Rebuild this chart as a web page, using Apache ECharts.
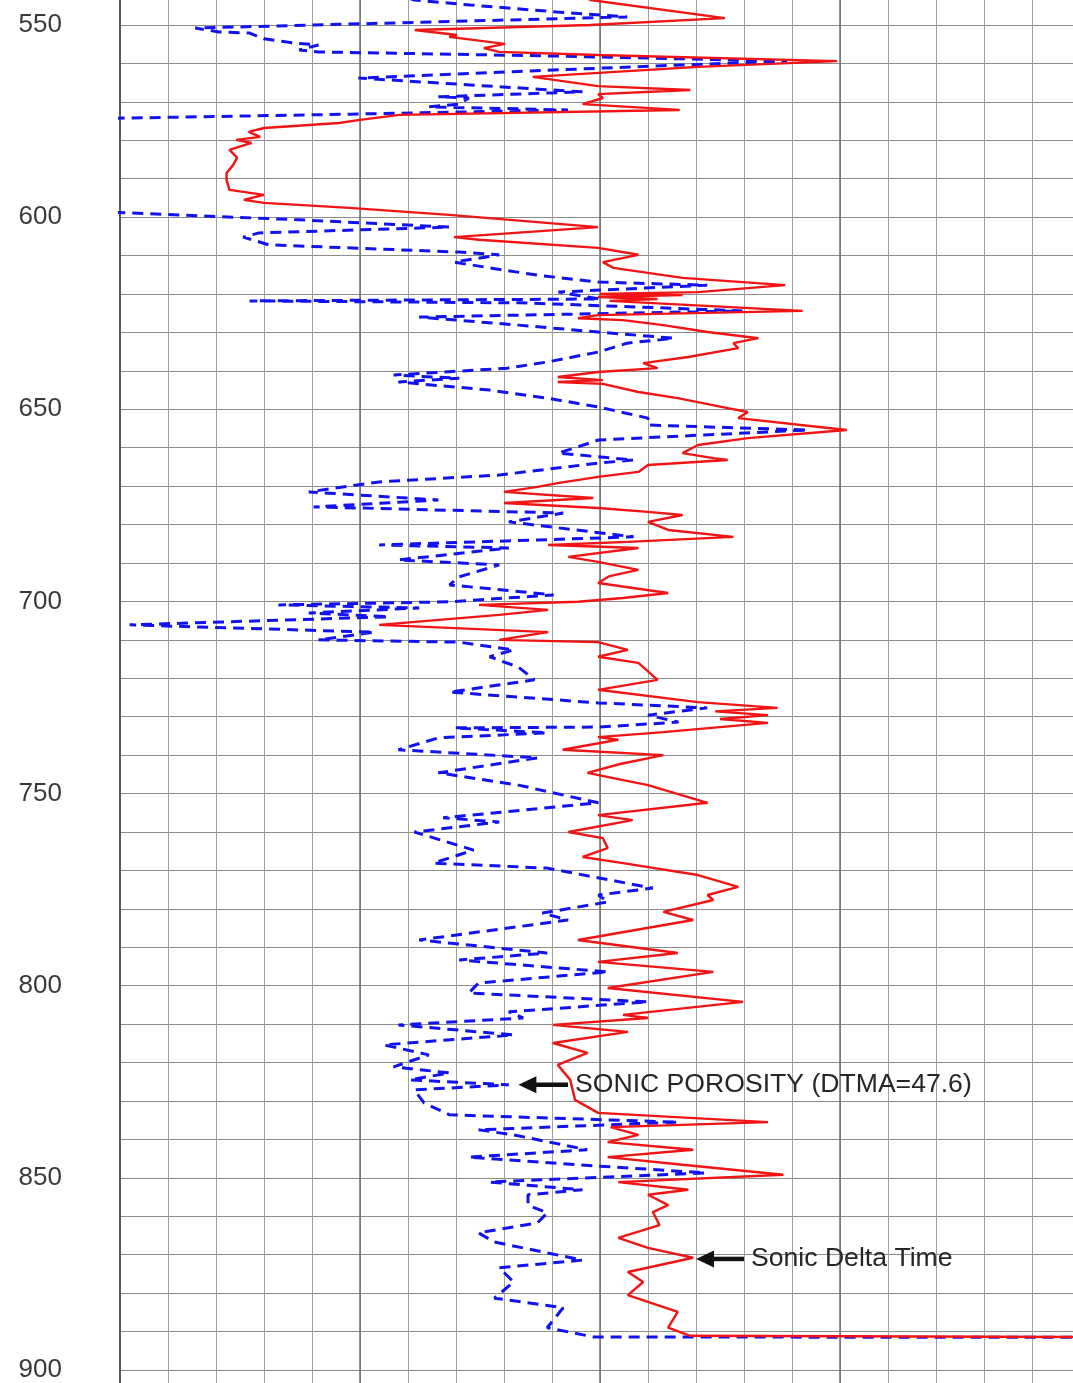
<!DOCTYPE html>
<html>
<head>
<meta charset="utf-8">
<script src="https://cdn.jsdelivr.net/npm/echarts@6/dist/echarts.min.js"></script>
<style>
  html, body { margin: 0; padding: 0; background: #ffffff; }
  #chart { width: 1073px; height: 1383px; }
</style>
</head>
<body>
<div id="chart"></div>
<script>
// Depth labels shown on the left track
const depthTicks = [550, 600, 650, 700, 750, 800, 850, 900];

// Sonic delta time (us/ft) against depth (ft)
const dtDepth = [
  540, 543.5, 548.2, 550.0, 551.3, 552.6, 553.1, 554.4, 554.9, 556.0, 557.0, 557.8, 559.4, 560.9,
  563.5, 565.9, 566.9, 568.0, 569.0, 570.6, 572.1, 573.4, 574.7, 575.5, 576.8, 577.8, 579.1, 579.9,
  580.7, 582.5, 584.5, 586.4, 588.5, 590.3, 592.9, 594.2, 595.5, 596.3, 597.6, 599.4, 602.6, 605.2,
  605.9, 608.0, 609.8, 611.7, 613.2, 615.1, 615.8, 617.7, 619.5, 620.0, 620.3, 620.8, 621.3, 621.8,
  624.4, 625.5, 626.3, 626.8, 628.1, 629.9, 631.5, 632.8, 634.1, 636.4, 638.0, 639.3, 640.3, 641.6,
  642.4, 642.9, 643.4, 645.5, 647.1, 649.7, 650.7, 652.3, 655.4, 657.5, 659.3, 661.4, 662.7, 663.2,
  664.5, 666.3, 667.6, 669.2, 670.2, 671.5, 673.1, 674.4, 675.7, 676.7, 677.5, 679.3, 681.4, 683.2,
  684.5, 685.3, 686.1, 688.4, 689.7, 691.8, 693.4, 695.2, 697.8, 699.1, 700.1, 700.9, 702.2, 703.5,
  706.1, 708.0, 710.0, 710.6, 712.6, 714.4, 716.0, 720.4, 723.0, 726.2, 727.7, 728.6, 729.6, 730.6,
  731.6, 734.0, 735.3, 736.0, 738.6, 740.0, 742.3, 744.6, 747.8, 752.4, 755.6, 756.9, 760.0, 761.6,
  764.2, 766.5, 768.1, 771.2, 774.3, 776.4, 777.7, 780.8, 782.9, 788.1, 791.5, 793.8, 796.4, 800.6,
  804.2, 807.6, 808.4, 810.2, 812.0, 814.9, 817.5, 820.6, 824.5, 829.7, 833.1, 835.5, 836.8, 838.8,
  840.7, 842.7, 844.6, 846.6, 849.2, 851.1, 853.1, 854.4, 857.1, 858.9, 862.3, 865.6, 868.2, 870.8,
  874.5, 877.1, 880.5, 884.9, 889.0, 891.1, 891.7
];
const dtValues = [
  93.0, 91.0, 77.0, 91.0, 109.3, 104.9, 105.7, 101.6, 99.9, 102.1, 100.5, 90.2, 65.3, 79.8,
  97.0, 90.2, 80.6, 90.2, 89.7, 91.8, 81.7, 110.9, 115.0, 117.2, 125.0, 126.6, 125.4, 127.9,
  126.3, 128.6, 127.8, 128.2, 128.9, 128.9, 128.6, 125.0, 127.1, 125.0, 116.1, 105.7, 90.2, 105.2,
  102.6, 90.2, 86.0, 89.7, 88.6, 83.4, 81.4, 70.7, 79.8, 90.0, 81.4, 90.2, 84.0, 89.0,
  68.9, 90.2, 92.3, 87.6, 83.4, 78.8, 73.5, 76.1, 75.6, 80.8, 85.5, 84.0, 90.2, 94.4,
  89.7, 94.4, 89.7, 86.0, 81.9, 76.7, 74.6, 75.6, 64.3, 74.6, 79.8, 81.4, 78.2, 76.7,
  85.0, 86.0, 90.2, 94.4, 96.5, 100.0, 90.7, 100.0, 90.2, 85.0, 81.4, 85.0, 82.9, 76.1,
  87.1, 95.4, 86.0, 93.3, 90.2, 86.0, 89.0, 90.2, 82.9, 87.6, 92.3, 102.6, 95.4, 100.5,
  113.0, 95.4, 100.5, 90.2, 87.1, 90.2, 86.0, 84.0, 90.2, 79.8, 71.5, 78.0, 72.5, 77.5,
  72.5, 83.4, 90.2, 88.1, 93.9, 83.4, 87.9, 91.3, 85.0, 78.8, 90.2, 86.6, 93.3, 89.7,
  89.2, 91.8, 87.6, 79.8, 75.6, 78.8, 78.2, 83.4, 80.3, 92.3, 81.9, 90.2, 78.2, 89.2,
  75.1, 87.6, 85.0, 94.9, 87.1, 94.9, 91.3, 94.4, 93.1, 92.6, 90.2, 72.5, 88.9, 86.0,
  89.2, 80.3, 89.2, 81.4, 70.9, 88.1, 80.8, 85.0, 82.9, 84.5, 83.8, 88.1, 85.0, 80.3,
  87.1, 85.5, 87.1, 81.9, 82.9, 80.6, 0
];

// Sonic porosity (fraction, DTMA = 47.6) against depth (ft)
const phiDepth = [
  540, 543.5, 544.8, 546.6, 547.9, 550.8, 551.8, 552.1, 553.6, 554.7, 555.2, 556.5, 557.0, 558.1,
  559.4, 560.9, 563.8, 565.6, 567.4, 568.7, 569.0, 570.6, 571.3, 572.1, 573.2, 574.2, 575.0, 580,
  590, 597.5, 598.9, 600.7, 602.6, 604.1, 605.2, 607.2, 609.1, 609.8, 611.7, 613.2, 615.1, 616.9,
  617.7, 619.5, 621.3, 621.8, 622.3, 623.4, 624.4, 626.0, 628.1, 629.9, 631.5, 632.8, 635.1, 637.7,
  639.3, 641.1, 641.9, 642.9, 645.0, 647.1, 649.4, 652.3, 654.1, 655.4, 658.0, 659.8, 661.4, 663.2,
  664.0, 667.1, 668.9, 671.5, 673.6, 675.4, 677.0, 679.3, 683.2, 684.0, 685.3, 686.1, 689.2, 690.5,
  693.6, 695.7, 698.3, 700.1, 700.9, 701.7, 703.0, 704.0, 706.1, 708.0, 710.0, 710.6, 712.6, 714.4,
  717.1, 720.4, 723.6, 726.4, 727.7, 729.6, 731.4, 732.7, 732.9, 734.2, 735.5, 738.6, 740.7, 744.6,
  747.8, 752.4, 756.3, 757.4, 760.0, 764.7, 768.1, 769.4, 774.6, 776.4, 778.2, 781.1, 782.9, 788.1,
  791.5, 793.3, 796.4, 799.3, 801.9, 804.2, 806.8, 808.4, 810.2, 812.8, 815.4, 818.0, 821.1, 822.7,
  824.5, 825.8, 827.1, 830.5, 833.6, 835.5, 837.5, 838.8, 842.7, 844.6, 846.6, 848.7, 851.1, 853.1,
  854.4, 857.1, 859.1, 861.7, 864.3, 866.7, 871.4, 873.4, 877.1, 881.3, 883.8, 889.0, 891.4, 891.8
];
const phiValues = [
  0.290, 0.266, 0.231, 0.177, 0.133, 0.403, 0.388, 0.369, 0.360, 0.341, 0.326, 0.338, 0.326, 0.175,
  0.033, 0.130, 0.301, 0.231, 0.161, 0.251, 0.232, 0.238, 0.257, 0.170, 0.306, 0.444, 0.520, 0.580,
  0.600, 0.550, 0.444, 0.338, 0.244, 0.363, 0.373, 0.357, 0.238, 0.213, 0.241, 0.219, 0.189, 0.151,
  0.083, 0.176, 0.150, 0.369, 0.200, 0.125, 0.061, 0.263, 0.201, 0.151, 0.104, 0.133, 0.151, 0.183,
  0.208, 0.279, 0.238, 0.276, 0.219, 0.183, 0.151, 0.120, 0.120, 0.020, 0.151, 0.164, 0.176, 0.129,
  0.151, 0.213, 0.288, 0.332, 0.251, 0.329, 0.173, 0.207, 0.129, 0.189, 0.288, 0.207, 0.276, 0.213,
  0.238, 0.244, 0.179, 0.244, 0.351, 0.263, 0.332, 0.282, 0.444, 0.291, 0.326, 0.238, 0.204, 0.219,
  0.201, 0.191, 0.244, 0.151, 0.083, 0.120, 0.101, 0.151, 0.241, 0.183, 0.251, 0.276, 0.189, 0.251,
  0.201, 0.151, 0.248, 0.213, 0.266, 0.229, 0.254, 0.183, 0.117, 0.151, 0.145, 0.186, 0.170, 0.263,
  0.183, 0.238, 0.145, 0.226, 0.232, 0.120, 0.207, 0.198, 0.276, 0.204, 0.285, 0.257, 0.279, 0.244,
  0.269, 0.207, 0.266, 0.260, 0.244, 0.101, 0.226, 0.204, 0.158, 0.232, 0.164, 0.084, 0.219, 0.161,
  0.195, 0.195, 0.183, 0.189, 0.226, 0.216, 0.161, 0.213, 0.204, 0.216, 0.173, 0.183, 0.154, -1.0
];

// Callouts: text with a left-pointing arrow, anchored in data units
const callouts = [
  { text: 'SONIC POROSITY (DTMA=47.6)', xAxisIndex: 1, head: [0.201, 825.8], tail: [0.17, 825.8] },
  { text: 'Sonic Delta Time', xAxisIndex: 0, head: [80.0, 871.1], tail: [75.0, 871.1] }
];

const zip = (xs, ys) => xs.map((x, i) => [x, ys[i]]);

const chart = echarts.init(document.getElementById('chart'), null, { renderer: 'canvas' });

const FONT = '"Liberation Sans", Arial, Helvetica, sans-serif';

chart.setOption({
  backgroundColor: '#ffffff',
  animation: false,
  grid: {
    left: 120, top: -13.43, width: 960, height: 1421.86,
    containLabel: false, outerBoundsMode: 'none'
  },
  xAxis: [
    {
      // Delta-time scale: 140 on the left, 40 on the right
      type: 'value', min: 40, max: 140, interval: 5, inverse: true,
      axisLine: { show: false }, axisTick: { show: false }, axisLabel: { show: false },
      splitLine: { show: true, lineStyle: { color: '#a0a0a0', width: 1 } }
    },
    {
      // Porosity scale: 0.45 on the left, -0.15 on the right
      type: 'value', min: -0.15, max: 0.45, interval: 0.15, inverse: true, position: 'bottom',
      axisLine: { show: false }, axisTick: { show: false }, axisLabel: { show: false },
      splitLine: { show: true, lineStyle: { color: '#6e6e6e', width: 1.5 } }
    }
  ],
  yAxis: {
    type: 'value', inverse: true, min: 540, max: 910, interval: 10,
    axisLine: { show: true, onZero: false, lineStyle: { color: '#5a5a5a', width: 2 } },
    axisTick: { show: false },
    axisLabel: {
      show: true, margin: 58, color: '#3a3a3a', fontSize: 26, fontFamily: FONT,
      formatter: v => (depthTicks.indexOf(v) >= 0 ? String(v) : '')
    },
    splitLine: { show: true, lineStyle: { color: '#8c8c8c', width: 1 } }
  },
  series: [
    {
      name: 'Sonic Porosity', type: 'line', xAxisIndex: 1, yAxisIndex: 0,
      data: zip(phiValues, phiDepth), showSymbol: false, clip: true, z: 3,
      lineStyle: { color: '#1212f0', width: 3, type: [11, 7] }
    },
    {
      name: 'Sonic Delta Time', type: 'line', xAxisIndex: 0, yAxisIndex: 0,
      data: zip(dtValues, dtDepth), showSymbol: false, clip: true, z: 4,
      lineStyle: { color: '#f01414', width: 2.4 }
    }
  ]
});

// Callout arrows and text, placed through the axis scales
const graphics = [];
callouts.forEach(c => {
  const finder = { xAxisIndex: c.xAxisIndex, yAxisIndex: 0 };
  const h = chart.convertToPixel(finder, c.head);
  const t = chart.convertToPixel(finder, c.tail);
  const headLen = 18, headHalf = 8.5;
  graphics.push({
    type: 'line', z: 10,
    shape: { x1: h[0] + headLen - 2, y1: h[1], x2: t[0], y2: t[1] },
    style: { stroke: '#111111', lineWidth: 4.5 }
  });
  graphics.push({
    type: 'polygon', z: 10,
    shape: { points: [[h[0], h[1]], [h[0] + headLen, h[1] - headHalf], [h[0] + headLen, h[1] + headHalf]] },
    style: { fill: '#111111' }
  });
  graphics.push({
    type: 'text', z: 10,
    x: t[0] + 7, y: t[1],
    style: {
      text: c.text, fill: '#262626', font: '26.6px ' + FONT,
      textAlign: 'left', textVerticalAlign: 'middle'
    }
  });
});
chart.setOption({ graphic: graphics });
</script>
</body>
</html>
